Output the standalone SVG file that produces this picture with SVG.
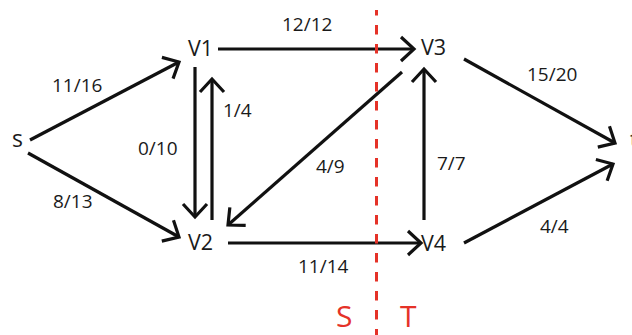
<svg xmlns="http://www.w3.org/2000/svg" width="632" height="335" viewBox="0 0 632 335">
<style>
text{font-family:"Open Sans","Noto Sans","DejaVu Sans",sans-serif;fill:#1a1a1a}
.node{font-size:21.5px}
.lbl{font-size:19px}
.cut{font-size:30px;fill:#e53228}
.edge{stroke:#111;stroke-width:3.2;fill:none;marker-end:url(#ah)}
</style>
<defs>
<marker id="ah" markerUnits="userSpaceOnUse" markerWidth="40" markerHeight="40" viewBox="-20 -20 40 40" refX="0" refY="0" orient="auto" overflow="visible">
<path d="M-13,-12 L0,0 L-13,12" stroke="#111" stroke-width="3.2" fill="none" stroke-linejoin="miter"/>
</marker>
</defs>
<rect width="632" height="335" fill="#ffffff"/>
<g id="connectors">
<line class="edge" x1="30" y1="140" x2="179" y2="62"/>
<line class="edge" x1="28" y1="153" x2="179" y2="237"/>
<line class="edge" x1="218" y1="49" x2="414" y2="49"/>
<line class="edge" x1="195" y1="67" x2="195" y2="217"/>
<line class="edge" x1="212" y1="220" x2="212" y2="79"/>
<line class="edge" x1="402" y1="72" x2="228" y2="225"/>
<line class="edge" x1="228" y1="243" x2="421" y2="243"/>
<line class="edge" x1="424" y1="220" x2="424" y2="69"/>
<line class="edge" x1="464" y1="59" x2="615" y2="143"/>
<line class="edge" x1="464" y1="243" x2="613" y2="164"/>
<text class="lbl" x="52" y="92">11/16</text>
<text class="lbl" x="282" y="31">12/12</text>
<text class="lbl" x="223" y="117">1/4</text>
<text class="lbl" x="138" y="155">0/10</text>
<text class="lbl" x="316" y="173">4/9</text>
<text class="lbl" x="437" y="170">7/7</text>
<text class="lbl" x="53" y="208">8/13</text>
<text class="lbl" x="527" y="81">15/20</text>
<text class="lbl" x="298" y="273">11/14</text>
<text class="lbl" x="540" y="233">4/4</text>
</g>
<g id="cut">
<line x1="376.5" y1="10" x2="376.5" y2="335" stroke="#e53228" stroke-width="3" stroke-dasharray="9.5 9.5" stroke-dashoffset="4"/>
<text class="cut" x="336" y="327">S</text>
<text class="cut" x="400" y="327">T</text>
</g>
<g id="node-s"><text class="node" x="12" y="147" style="font-size:23px">s</text></g>
<g id="node-v1"><text class="node" x="188" y="56">V1</text></g>
<g id="node-v2"><text class="node" x="188" y="250">V2</text></g>
<g id="node-v3"><text class="node" x="421" y="55">V3</text></g>
<g id="node-v4"><text class="node" x="421" y="251">V4</text></g>
<g id="node-t"><text class="node" x="630" y="147">t</text></g>
</svg>
